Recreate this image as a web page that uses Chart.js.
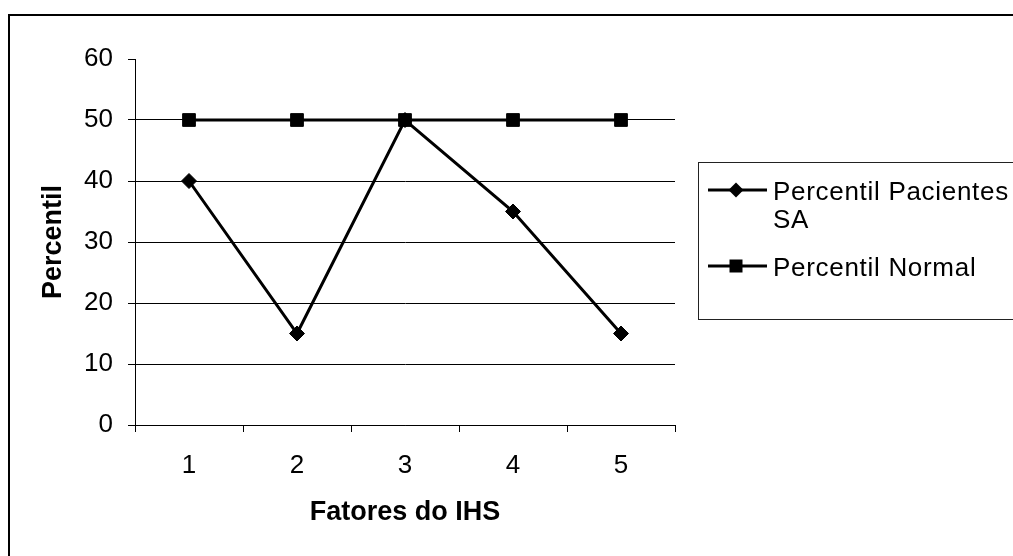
<!DOCTYPE html>
<html>
<head>
<meta charset="utf-8">
<script src="https://cdn.jsdelivr.net/npm/chart.js@4/dist/chart.umd.min.js"></script>
<style>
  html, body { margin: 0; padding: 0; background: #fff; }
  canvas { display: block; }
</style>
</head>
<body>
<canvas id="chart" width="1013" height="556"></canvas>
<script>
// data
const categories = ['1', '2', '3', '4', '5'];
const pacientesSA = [40, 15, 50, 35, 15];
const normal = [50, 50, 50, 50, 50];
const seriesNames = ['Percentil Pacientes SA', 'Percentil Normal'];
const xTitle = 'Fatores do IHS';
const yTitle = 'Percentil';

const FONT = "'Liberation Sans', Arial, sans-serif";

// white background + outer frame
const framePlugin = {
  id: 'frame',
  beforeDraw(chart) {
    const ctx = chart.ctx;
    ctx.save();
    ctx.fillStyle = '#fff';
    ctx.fillRect(0, 0, chart.width, chart.height);
    ctx.strokeStyle = '#000';
    ctx.lineWidth = 2;
    ctx.strokeRect(9, 15, 1200, 700);
    ctx.restore();
  }
};

// excel-like legend box on the right
const legendBox = {
  id: 'legendBox',
  afterDraw(chart) {
    const ctx = chart.ctx;
    ctx.save();
    ctx.strokeStyle = '#222';
    ctx.lineWidth = 1;
    ctx.strokeRect(698.5, 162.5, 400, 157);

    ctx.font = '26px ' + FONT;
    if ('letterSpacing' in ctx) ctx.letterSpacing = '0.7px';
    ctx.fillStyle = '#000';
    ctx.textBaseline = 'middle';
    const maxW = 238;
    let y = 190;
    chart.data.datasets.forEach(function (ds) {
      // line + marker
      ctx.strokeStyle = '#000';
      ctx.lineWidth = 3;
      ctx.beginPath();
      ctx.moveTo(708, y);
      ctx.lineTo(767, y);
      ctx.stroke();
      ctx.fillStyle = '#000';
      ctx.beginPath();
      if (ds.pointStyle === 'rectRot') {
        const r = 7.5;
        ctx.moveTo(736, y - r);
        ctx.lineTo(736 + r, y);
        ctx.lineTo(736, y + r);
        ctx.lineTo(736 - r, y);
        ctx.closePath();
      } else {
        ctx.rect(736 - 6.5, y - 6.5, 13, 13);
      }
      ctx.fill();

      // wrap text
      const words = ds.label.split(' ');
      const lines = [];
      let cur = '';
      words.forEach(function (w) {
        const test = cur ? cur + ' ' + w : w;
        if (ctx.measureText(test).width > maxW && cur) {
          lines.push(cur);
          cur = w;
        } else {
          cur = test;
        }
      });
      lines.push(cur);
      lines.forEach(function (l, i) {
        ctx.fillText(l, 773, y + 3 + i * 28);
      });
      y += lines.length * 28 + 20;
    });
    ctx.restore();
  }
};

new Chart(document.getElementById('chart'), {
  type: 'line',
  data: {
    labels: categories,
    datasets: [{
      label: seriesNames[0],
      data: pacientesSA,
      borderColor: '#000',
      backgroundColor: '#000',
      borderWidth: 3,
      pointStyle: 'rectRot',
      pointRadius: 7.5,
      pointBorderWidth: 1,
      tension: 0,
      order: 1
    }, {
      label: seriesNames[1],
      data: normal,
      borderColor: '#000',
      backgroundColor: '#000',
      borderWidth: 3,
      pointStyle: 'rect',
      pointRadius: 9,
      pointBorderWidth: 1,
      tension: 0,
      order: 0
    }]
  },
  options: {
    responsive: false,
    animation: false,
    devicePixelRatio: 1,
    layout: {
      padding: { top: 59, right: 338, left: 0, bottom: 0 }
    },
    plugins: {
      legend: { display: false },
      tooltip: { enabled: false }
    },
    scales: {
      x: {
        type: 'category',
        offset: true,
        grid: {
          offset: true,
          drawOnChartArea: false,
          tickLength: 7,
          color: '#000',
          tickColor: '#000'
        },
        border: { color: '#000', width: 1 },
        ticks: {
          color: '#000',
          padding: 18,
          maxRotation: 0,
          font: { family: FONT, size: 26 }
        },
        title: {
          display: true,
          text: xTitle,
          color: '#000',
          padding: { top: 0, bottom: 27 },
          font: { family: FONT, size: 27, weight: 'bold' }
        },
        afterFit: function (scale) { scale.height = 131; }
      },
      y: {
        min: 0,
        max: 60,
        ticks: {
          stepSize: 10,
          color: '#000',
          padding: 15,
          font: { family: FONT, size: 26 }
        },
        grid: {
          tickLength: 7,
          tickColor: '#000',
          color: function (c) { return c.tick && c.tick.value === 60 ? 'rgba(0,0,0,0)' : '#000'; }
        },
        border: { color: '#000', width: 1 },
        title: {
          display: true,
          text: yTitle,
          color: '#000',
          padding: { top: 37, bottom: 0 },
          font: { family: FONT, size: 27, weight: 'bold' }
        },
        afterFit: function (scale) { scale.width = 135; }
      }
    }
  },
  plugins: [framePlugin, legendBox]
});
</script>
</body>
</html>
